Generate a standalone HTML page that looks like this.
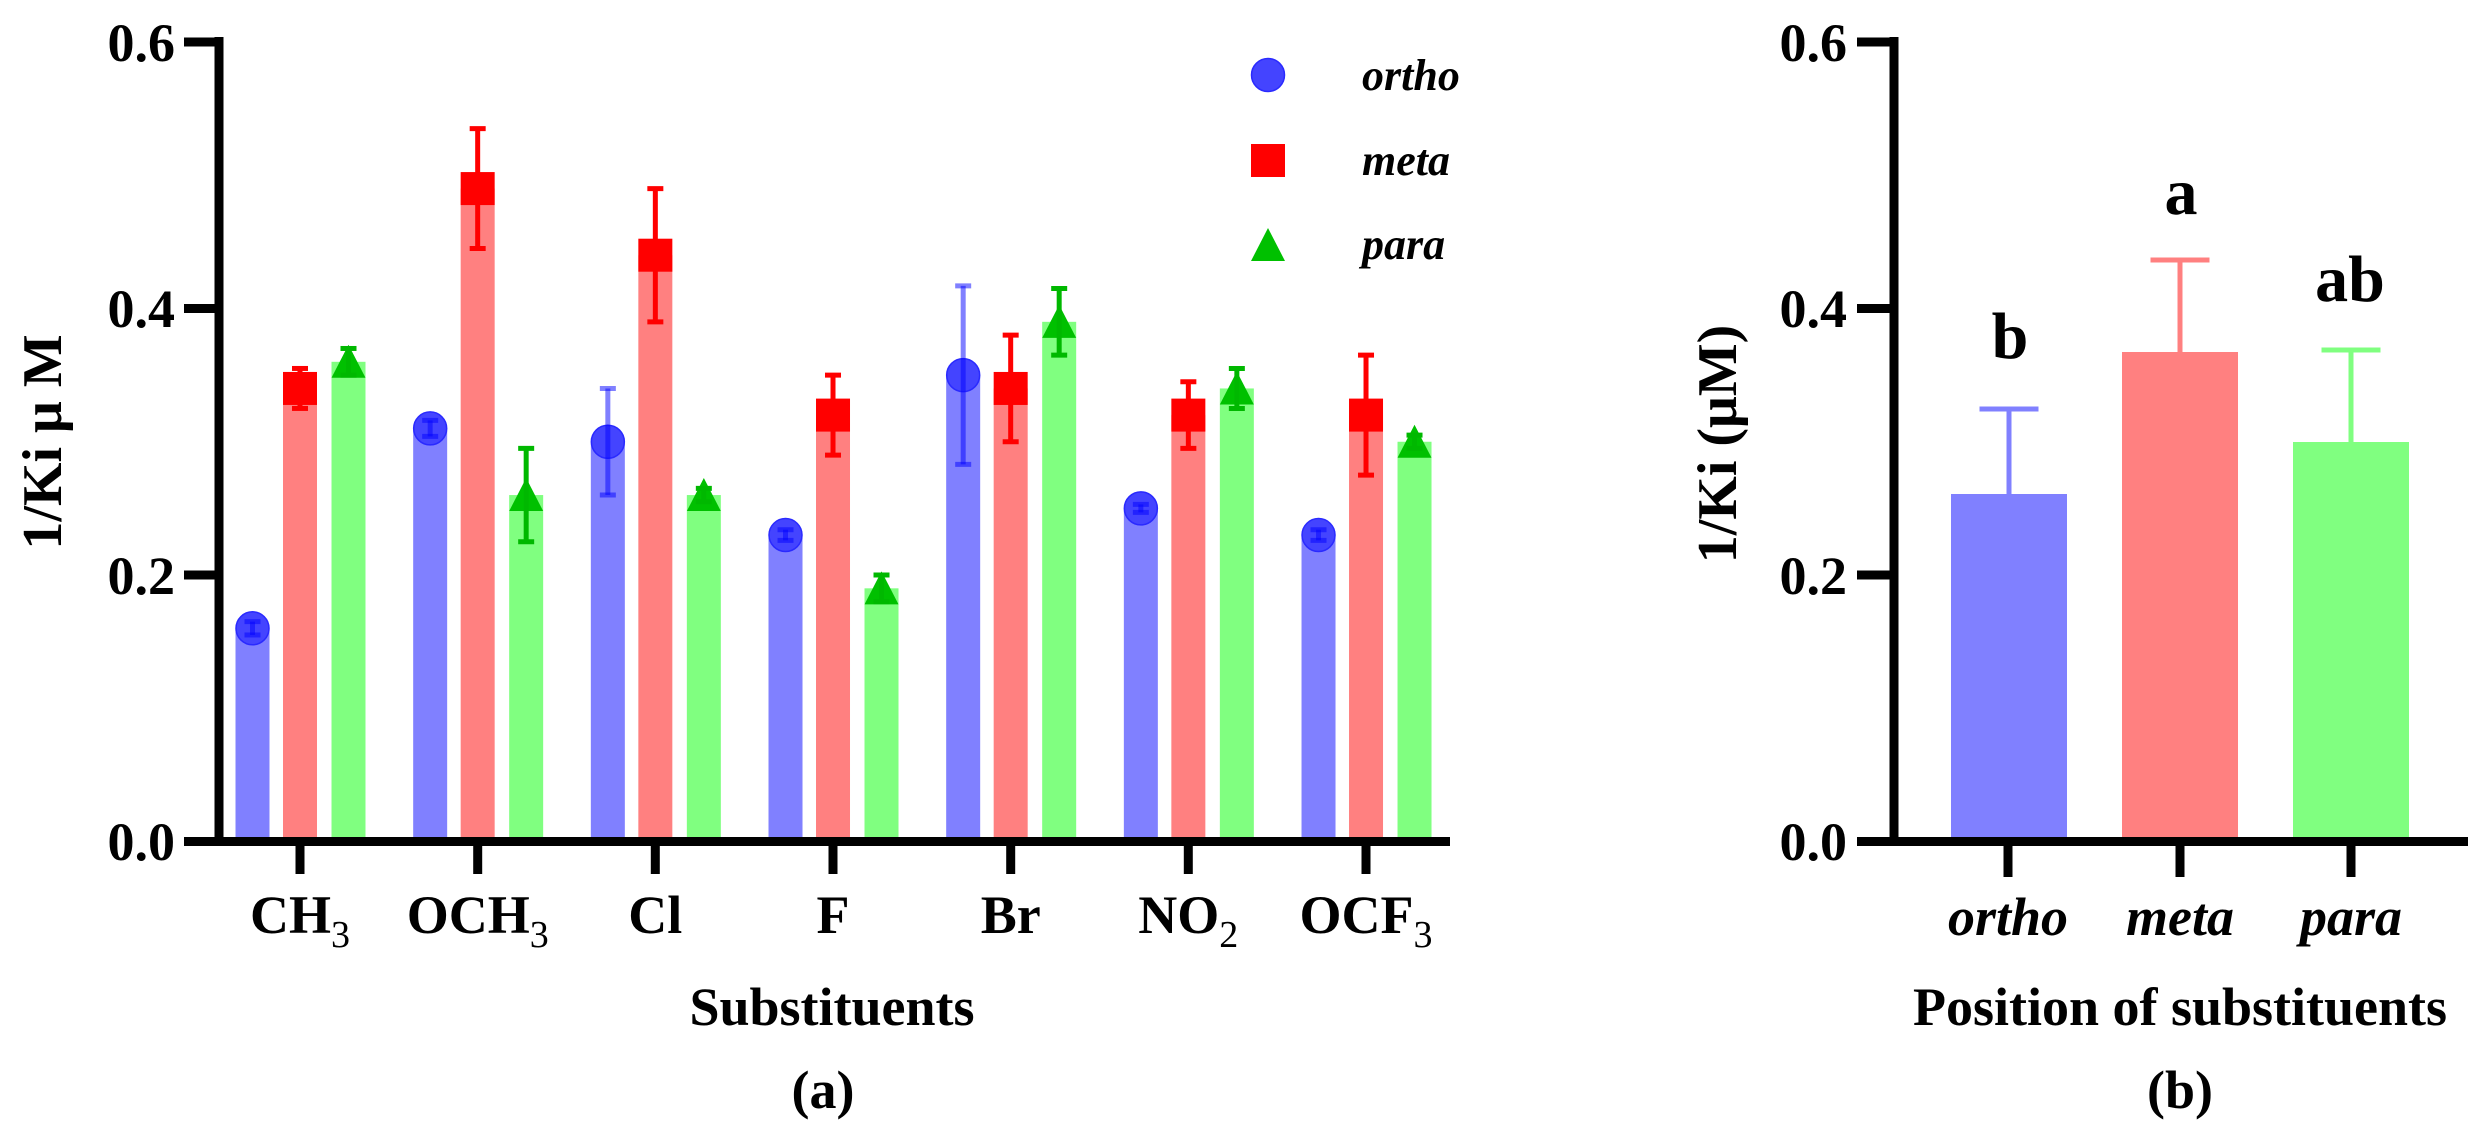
<!DOCTYPE html>
<html><head><meta charset="utf-8"><style>
html,body{margin:0;padding:0;background:#fff;}
svg{display:block;}
svg text{font-family:"Liberation Serif","Times New Roman","DejaVu Serif",serif !important;font-weight:bold;fill:#000;}
</style></head><body>
<svg id="s" width="2490" height="1135" viewBox="0 0 2490 1135" xmlns="http://www.w3.org/2000/svg" font-family="'Liberation Serif', 'Times New Roman', serif">
<g id="bars"></g>
<!-- Panel a axes -->
<line x1="219" y1="37" x2="219" y2="846" stroke="#000" stroke-width="9"/>
<line x1="184" y1="841.5" x2="1450" y2="841.5" stroke="#000" stroke-width="9"/>
<g stroke="#000" stroke-width="9">
<line x1="184" y1="42" x2="219" y2="42"/>
<line x1="184" y1="308.5" x2="219" y2="308.5"/>
<line x1="184" y1="575" x2="219" y2="575"/>
<line x1="300" y1="841" x2="300" y2="874"/>
<line x1="477.7" y1="841" x2="477.7" y2="874"/>
<line x1="655.3" y1="841" x2="655.3" y2="874"/>
<line x1="833" y1="841" x2="833" y2="874"/>
<line x1="1010.7" y1="841" x2="1010.7" y2="874"/>
<line x1="1188.3" y1="841" x2="1188.3" y2="874"/>
<line x1="1366" y1="841" x2="1366" y2="874"/>
</g>
<g font-size="54" text-anchor="end">
<text x="175" y="61">0.6</text>
<text x="175" y="327">0.4</text>
<text x="175" y="594">0.2</text>
<text x="175" y="860">0.0</text>
</g>
<text transform="translate(61,442) rotate(-90)" font-size="56" text-anchor="middle">1/Ki μ M</text>
<g font-size="54" text-anchor="middle">
<text x="300" y="933">CH<tspan font-size="38" style="font-weight:normal" dy="14">3</tspan></text>
<text x="477.7" y="933">OCH<tspan font-size="38" style="font-weight:normal" dy="14">3</tspan></text>
<text x="655.3" y="933">Cl</text>
<text x="833" y="933">F</text>
<text x="1010.7" y="933">Br</text>
<text x="1188.3" y="933">NO<tspan font-size="38" style="font-weight:normal" dy="14">2</tspan></text>
<text x="1366" y="933">OCF<tspan font-size="38" style="font-weight:normal" dy="14">3</tspan></text>
<text x="832" y="1025">Substituents</text>
<text x="823" y="1108">(a)</text>
</g>
<!-- legend -->
<circle cx="1268" cy="75" r="16.5" fill="#4444ff" stroke="#2a2aff" stroke-width="1.5"/>
<rect x="1251" y="144" width="34" height="33" fill="#ff0000"/>
<polygon points="1268,228 1285,261 1251,261" fill="#00c000"/>
<g font-size="44" font-style="italic">
<text x="1362" y="90">ortho</text>
<text x="1362" y="175">meta</text>
<text x="1362" y="259">para</text>
</g>
<!-- Panel b -->
<rect x="1951" y="494" width="116" height="348" fill="#8080ff"/>
<rect x="2122" y="352" width="116" height="490" fill="#ff8080"/>
<rect x="2293" y="442" width="116" height="400" fill="#80ff80"/>
<g stroke-width="5">
<line x1="2009" y1="409" x2="2009" y2="494" stroke="#8080ff"/>
<line x1="1979.5" y1="409" x2="2038.5" y2="409" stroke="#8080ff"/>
<line x1="2180" y1="260" x2="2180" y2="352" stroke="#ff8080"/>
<line x1="2150.5" y1="260" x2="2209.5" y2="260" stroke="#ff8080"/>
<line x1="2351" y1="350" x2="2351" y2="442" stroke="#80ff80"/>
<line x1="2321.5" y1="350" x2="2380.5" y2="350" stroke="#80ff80"/>
</g>
<line x1="1894" y1="37" x2="1894" y2="846" stroke="#000" stroke-width="9"/>
<line x1="1857" y1="841.5" x2="2468" y2="841.5" stroke="#000" stroke-width="9"/>
<g stroke="#000" stroke-width="9">
<line x1="1857" y1="42" x2="1894" y2="42"/>
<line x1="1857" y1="308.5" x2="1894" y2="308.5"/>
<line x1="1857" y1="575" x2="1894" y2="575"/>
<line x1="2008" y1="841" x2="2008" y2="877"/>
<line x1="2180" y1="841" x2="2180" y2="877"/>
<line x1="2351" y1="841" x2="2351" y2="877"/>
</g>
<g font-size="54" text-anchor="end">
<text x="1847" y="61">0.6</text>
<text x="1847" y="327">0.4</text>
<text x="1847" y="594">0.2</text>
<text x="1847" y="860">0.0</text>
</g>
<text transform="translate(1736,444) rotate(-90)" font-size="56" text-anchor="middle">1/Ki (μM)</text>
<g font-size="66" text-anchor="middle">
<text x="2010" y="358">b</text>
<text x="2181" y="214">a</text>
<text x="2350" y="301">ab</text>
</g>
<g font-size="54" text-anchor="middle" font-style="italic">
<text x="2008" y="935">ortho</text>
<text x="2180" y="935">meta</text>
<text x="2351" y="935">para</text>
</g>
<g font-size="54" text-anchor="middle">
<text x="2180" y="1025">Position of substituents</text>
<text x="2180" y="1108">(b)</text>
</g>
</svg>
<script>
(function(){
var g=document.getElementById('bars'),NS='http://www.w3.org/2000/svg';
function Y(v){return 841.5-v*1332.5;}
function el(t,a){var e=document.createElementNS(NS,t);for(var k in a)e.setAttribute(k,a[k]);g.appendChild(e);return e;}
var d=[[[.16,.005],[.34,.015],[.36,.01]],[[.31,.006],[.49,.045],[.26,.035]],[[.30,.04],[.44,.05],[.26,.005]],[[.23,.004],[.32,.03],[.19,.01]],[[.35,.067],[.34,.04],[.39,.025]],[[.25,.003],[.32,.025],[.34,.015]],[[.23,.004],[.32,.045],[.30,.005]]];
var off=[-47.5,0,48.5],bc=['#8080ff','#ff8080','#80ff80'],ec=['#7777ff','#ff0000','#00b800'];
for(var i=0;i<7;i++){var c=300+177.67*i;
for(var j=0;j<3;j++){var x=c+off[j],v=d[i][j][0];
el('rect',{x:x-17,y:Y(v),width:34,height:841.5-Y(v),fill:bc[j]});}
for(var j=0;j<3;j++){var x=c+off[j],v=d[i][j][0],e=d[i][j][1],y=Y(v);
if(j==0){el('circle',{cx:x,cy:y,r:16.5,fill:'#4444ff',stroke:'#2a2aff','stroke-width':1.5});}
else if(j==1){el('rect',{x:x-17,y:y-16.5,width:34,height:33,fill:'#ff0000'});}
else{el('polygon',{points:(x)+','+(y-17)+' '+(x+17)+','+(y+16)+' '+(x-17)+','+(y+16),fill:'#00c000'});}
var col=j==0?'#8080ff':ec[j];var st=j==0?{'style':'mix-blend-mode:multiply'}:{};
var y1=Y(v+e),y2=Y(v-e);
var a={x1:x,y1:y1,x2:x,y2:y2,stroke:col,'stroke-width':5};for(var k in st)a[k]=st[k];el('line',a);
a={x1:x-8,y1:y1,x2:x+8,y2:y1,stroke:col,'stroke-width':5};for(var k in st)a[k]=st[k];el('line',a);
a={x1:x-8,y1:y2,x2:x+8,y2:y2,stroke:col,'stroke-width':5};for(var k in st)a[k]=st[k];el('line',a);
}}
})();
</script>
</body></html>
